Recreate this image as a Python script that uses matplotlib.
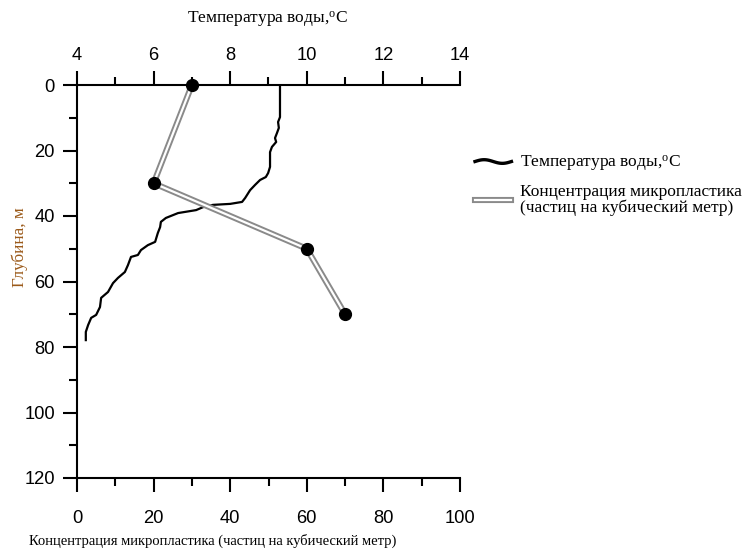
import numpy as np
import matplotlib
matplotlib.use("Agg")
import matplotlib.pyplot as plt
from matplotlib.lines import Line2D
from matplotlib.legend_handler import HandlerLine2D, HandlerTuple
from matplotlib.ticker import MultipleLocator

# ---- data ----
mp_depth = [0, 30, 50, 70]
mp_conc = [30, 20, 60, 70]

temp_depth = [0, 9.8, 11.3, 13.1, 14.7, 16.2, 17.4, 18.9, 20.5, 25.0, 26.9, 28.1,
              29.0, 30.5, 32.1, 34.5, 35.7, 36.3, 36.6, 37.3, 38.2, 39.1, 40.6,
              41.8, 43.4, 45.2, 47.9, 48.9, 50.4, 51.9, 52.5, 55.0, 57.1, 58.9,
              60.5, 63.2, 65.0, 67.8, 70.2, 71.1, 73.3, 75.4, 77.9]
temp_val = [9.30, 9.30, 9.25, 9.27, 9.22, 9.17, 9.20, 9.09, 9.04, 9.04, 8.99, 8.93,
            8.78, 8.65, 8.52, 8.39, 8.31, 8.00, 7.55, 7.29, 7.11, 6.64, 6.32,
            6.19, 6.17, 6.11, 6.04, 5.85, 5.67, 5.59, 5.41, 5.33, 5.25, 5.07,
            4.94, 4.81, 4.63, 4.60, 4.50, 4.37, 4.29, 4.23, 4.23]

conc_ticks = [0, 20, 40, 60, 80, 100]
temp_ticks = [4, 6, 8, 10, 12, 14]
depth_ticks = [0, 20, 40, 60, 80, 100, 120]

label_temp = "Температура воды,$\\mathregular{^{o}}$С"
label_conc = "Концентрация микропластика (частиц на кубический метр)"
label_depth = "Глубина, м"
legend_temp = "Температура воды,$\\mathregular{^{o}}$С"
legend_conc = "Концентрация микропластика\n(частиц на кубический метр)"

# ---- style ----
plt.rcParams['font.family'] = ['Liberation Sans', 'DejaVu Sans']
plt.rcParams['mathtext.fontset'] = 'custom'
plt.rcParams['mathtext.rm'] = 'Liberation Serif'
serif = ['Liberation Serif', 'DejaVu Serif']

fig = plt.figure(figsize=(7.47, 5.51), dpi=100)
ax = fig.add_axes([77/747, 1-478/551, 383/747, 393/551])
ax2 = ax.twiny()

# microplastic on bottom axis
ax.plot(mp_conc, mp_depth, color='#8a8a8a', lw=4.4, solid_capstyle='butt', zorder=3)
ax.plot(mp_conc, mp_depth, color='white', lw=1.6, zorder=4)
ax.plot(mp_conc, mp_depth, 'o', color='black', ms=8.5, zorder=5, clip_on=False)

# temperature on top axis
ax2.plot(temp_val, temp_depth, color='black', lw=1.6, zorder=2)

ax.set_zorder(ax2.get_zorder() + 1)
ax.patch.set_visible(False)

ax.set_xlim(0, 100)
ax.set_ylim(120, 0)
ax2.set_xlim(4, 14)

ax.set_xticks(conc_ticks)
ax.xaxis.set_minor_locator(MultipleLocator(10))
ax.set_yticks(depth_ticks)
ax.yaxis.set_minor_locator(MultipleLocator(10))
ax2.set_xticks(temp_ticks)
ax2.xaxis.set_minor_locator(MultipleLocator(1))

for a in (ax, ax2):
    for s in a.spines.values():
        s.set_visible(False)
        s.set_linewidth(1.5)
ax.spines['left'].set_visible(True)
ax.spines['bottom'].set_visible(True)
ax2.spines['top'].set_visible(True)

TS = 13.2
ax.tick_params(axis='x', which='major', direction='out', length=10, width=1.5,
               pad=13, labelsize=TS)
ax.tick_params(axis='x', which='minor', direction='out', length=5.5, width=1.5)
ax.tick_params(axis='y', which='major', direction='out', length=10, width=1.5,
               pad=6, labelsize=TS)
ax.tick_params(axis='y', which='minor', direction='out', length=5.5, width=1.5)
ax2.tick_params(axis='x', which='major', direction='out', length=10, width=1.5,
                pad=5, labelsize=TS)
ax2.tick_params(axis='x', which='minor', direction='out', length=5.5, width=1.5)

ax.set_xlabel(label_conc, fontfamily=serif, fontsize=10.5)
ax.xaxis.set_label_coords((213-77)/383, (478-541)/393)
ax.xaxis.label.set_va('center')
ax.set_ylabel(label_depth, fontfamily=serif, fontsize=12.3, color='#9b5a1a')
ax.yaxis.set_label_coords((20-77)/383, (478-247)/393)
ax.yaxis.label.set_va('center')
ax2.set_xlabel(label_temp, fontfamily=serif, fontsize=12.5)
ax2.xaxis.set_label_coords((267-77)/383, (478-20)/393)
ax2.xaxis.label.set_va('center')


class HandlerWave(HandlerLine2D):
    def create_artists(self, legend, orig_handle, xdescent, ydescent, width,
                       height, fontsize, trans):
        xs = np.linspace(-xdescent, width - xdescent, 40)
        ys = (height / 2 - ydescent) + 0.15 * height * np.sin(
            (xs + xdescent) / width * 2 * np.pi)
        line = Line2D(xs, ys, color='black', lw=2.4)
        line.set_transform(trans)
        return [line]


h_temp = Line2D([], [], color='black', lw=2)
h_out = Line2D([], [], color='#8a8a8a', lw=4.4)
h_in = Line2D([], [], color='white', lw=1.6)

leg = fig.legend([h_temp, (h_out, h_in)], [legend_temp, legend_conc],
                 loc='upper left', bbox_to_anchor=(475/747, 1-154/551),
                 frameon=False, prop={'family': serif, 'size': 12.5},
                 handlelength=2.1, handletextpad=0.5, labelspacing=0.55,
                 borderaxespad=0, borderpad=0,
                 handler_map={h_temp: HandlerWave(),
                              tuple: HandlerTuple(ndivide=1)})
for t in leg.get_texts():
    t.set_linespacing(1.0)

fig.savefig('out.png', dpi=100)
